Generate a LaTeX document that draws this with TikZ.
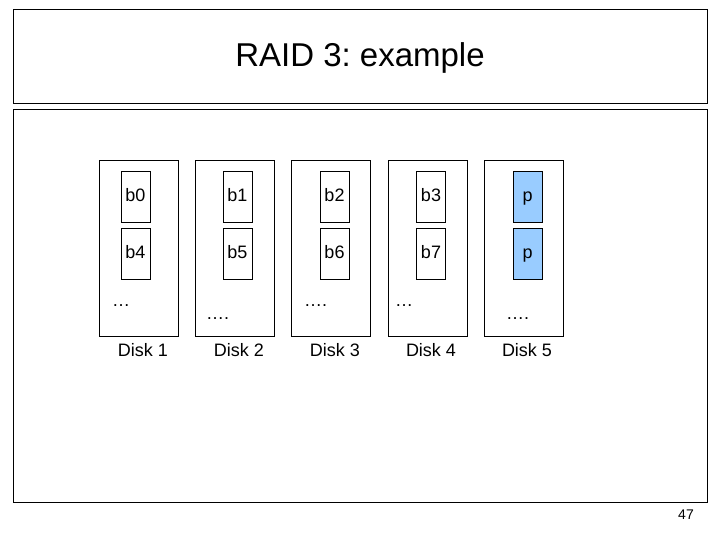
\documentclass[tikz,border=0pt]{standalone}
\usepackage{fontspec}
\setmainfont{Liberation Sans}
\frenchspacing
\definecolor{parity}{HTML}{99CCFF}
\begin{document}
\begin{tikzpicture}[x=1pt,y=-1pt,
  frame/.style={draw=black,line width=1pt},
  disk/.style={draw=black,line width=0.9pt,minimum width=79pt,minimum height=176pt,inner sep=0pt},
  blk/.style={draw=black,line width=0.9pt,minimum width=29pt,minimum height=51pt,inner sep=0pt,text height=13pt,text depth=3pt,font=\fontsize{18}{20}\selectfont},
  pblk/.style={blk,fill=parity},
  lbl/.style={font=\fontsize{18}{20}\selectfont,inner sep=0pt},
  dots/.style={font=\fontsize{18}{20}\selectfont,inner sep=0pt,anchor=base west}]
\useasboundingbox (0,0) rectangle (720,540);
\fill[white] (0,0) rectangle (720,540);
\node[frame,minimum width=694pt,minimum height=94pt,inner sep=0pt] (titlebox) at (360,57) {};
\node[font=\fontsize{33}{36}\selectfont] (title) at (360,58) {RAID 3: example};
\node[frame,minimum width=694pt,minimum height=392pt,inner sep=0pt] (body) at (360,306) {};
% disks
\node[disk] (d1) at (138.5,248) {};
\node[disk] (d2) at (234.5,248) {};
\node[disk] (d3) at (331,248) {};
\node[disk] (d4) at (427.5,248) {};
\node[disk] (d5) at (524,248) {};
% blocks
\node[blk] (b0) at (135.5,196.5) {b0};
\node[blk] (b4) at (135.5,253.5) {b4};
\node[blk] (b1) at (237.5,196.5) {b1};
\node[blk] (b5) at (237.5,253.5) {b5};
\node[blk] (b2) at (334.5,196.5) {b2};
\node[blk] (b6) at (334.5,253.5) {b6};
\node[blk] (b3) at (431,196.5) {b3};
\node[blk] (b7) at (431,253.5) {b7};
\node[pblk] (p1) at (527.5,196.5) {p};
\node[pblk] (p2) at (527.5,253.5) {p};
% dots
\node[dots] (e1) at (112,306) {\ldots};
\node[dots] (e2) at (206,319) {\ldots.};
\node[dots] (e3) at (304,306) {\ldots.};
\node[dots] (e4) at (395,306) {\ldots};
\node[dots] (e5) at (506,319) {\ldots.};
% labels
\node[lbl] (l1) at (143,350) {Disk 1};
\node[lbl] (l2) at (239,350) {Disk 2};
\node[lbl] (l3) at (335,350) {Disk 3};
\node[lbl] (l4) at (431,350) {Disk 4};
\node[lbl] (l5) at (527,350) {Disk 5};
\node[font=\fontsize{14}{16}\selectfont,inner sep=0pt] (pg) at (686,515) {47};
\end{tikzpicture}
\end{document}
